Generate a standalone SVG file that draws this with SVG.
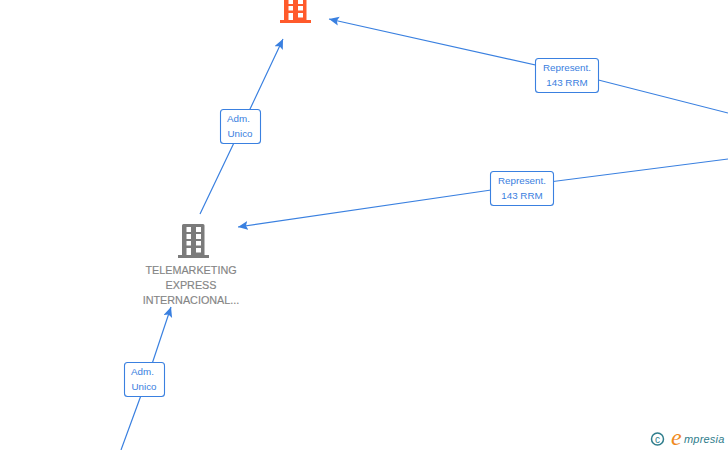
<svg xmlns="http://www.w3.org/2000/svg" width="728" height="450" viewBox="0 0 728 450">
<style>
.edge{fill:none;stroke:#3a80e0;stroke-width:1.2;marker-end:url(#arrow)}
.box{fill:#fff;stroke:#3a80e0;stroke-width:1.1}
.lab{font:9.8px "Liberation Sans",Arial,sans-serif;fill:#3a80e0;text-anchor:middle}
.name{font:10.8px "Liberation Sans",Arial,sans-serif;fill:#858585;stroke:#858585;stroke-width:.15;text-anchor:middle}
.logo{font:italic 11px "Liberation Sans",Arial,sans-serif;fill:#2f7d8c;letter-spacing:.2px}
</style>
<defs>
<marker id="arrow" markerUnits="userSpaceOnUse" markerWidth="11" markerHeight="11" refX="10" refY="4.5" orient="auto"><path d="M0 0L10 4.500L0 9L2 4.500Z" fill="#3a80e0"/></marker>
<g id="bld">
<path fill-rule="evenodd" d="M-11.500 31V1.500Q-11.500 0 -10 0H9.500Q11 0 11 1.500V31H15.500V34H-15.500V31ZM-7 3V8H-2.500V3ZM2.500 3V8H7.500V3ZM-7 10V15H-2.500V10ZM2.500 10V15H7.500V10ZM-7 17V21.500H-2.500V17ZM2.500 17V21.500H7.500V17ZM-7 24V31H-2.500V24ZM2.500 24V28.500H7.500V24Z"/>
</g>
</defs>
<g id="connectors">
<path class="edge" d="M728 113L567 72L329 19"/>
<path class="edge" d="M728 159L522 185.500L238 227"/>
<path class="edge" d="M200 214L242 126L283 39"/>
<path class="edge" d="M121 450L147 379L171 307"/>
</g>
<g id="node-top"><use href="#bld" x="295.500" y="-11" fill="#ff5a2b"/></g>
<g id="node-telemarketing">
<use href="#bld" x="193.500" y="224" fill="#7b7b7b"/>
<text class="name" x="191" y="274">TELEMARKETING</text>
<text class="name" x="191" y="289">EXPRESS</text>
<text class="name" x="191" y="304">INTERNACIONAL...</text>
</g>
<g id="label-rep1"><rect class="box" x="535.500" y="58.500" width="63" height="34" rx="3"/><text class="lab" x="567" y="71">Represent.</text><text class="lab" x="567" y="86">143 RRM</text></g>
<g id="label-rep2"><rect class="box" x="490.500" y="171.500" width="63" height="34" rx="3"/><text class="lab" x="522" y="184">Represent.</text><text class="lab" x="522" y="199">143 RRM</text></g>
<g id="label-adm1"><rect class="box" x="220.500" y="109.500" width="40" height="34" rx="3"/><text class="lab" x="238.500" y="122">Adm.</text><text class="lab" x="240" y="137">Unico</text></g>
<g id="label-adm2"><rect class="box" x="124.500" y="362.500" width="40" height="34" rx="3"/><text class="lab" x="142.500" y="375">Adm.</text><text class="lab" x="144" y="390">Unico</text></g>
<g id="logo">
<circle cx="657.500" cy="439" r="6" fill="none" stroke="#2f7d8c" stroke-width="1.500"/>
<text x="657.500" y="442.500" font-family="Liberation Sans,sans-serif" font-size="10" fill="#2f7d8c" text-anchor="middle">c</text>
<text x="671" y="445" font-family="Liberation Serif,serif" font-style="italic" font-size="24" fill="#f08a1d">e</text>
<text class="logo" x="684" y="443">mpresia</text>
</g>
</svg>
